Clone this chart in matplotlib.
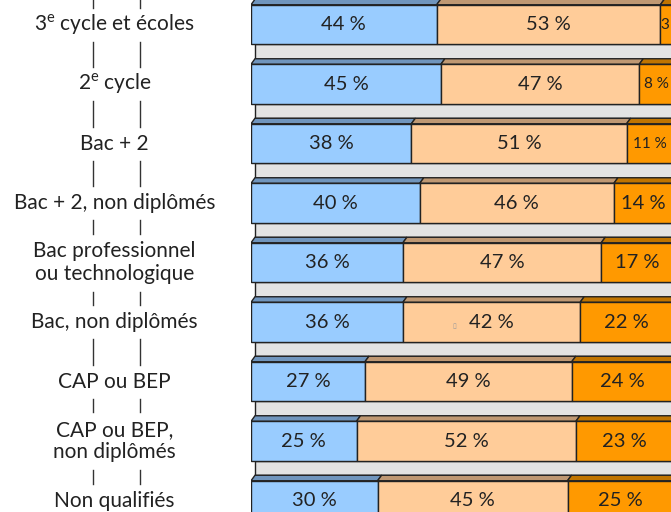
import matplotlib
matplotlib.use('Agg')
import matplotlib.pyplot as plt
from matplotlib.patches import Polygon
from matplotlib.transforms import blended_transform_factory

# ---------------- data ----------------
categories = [
    "3$^\\mathregular{e}$ cycle et écoles",
    "2$^\\mathregular{e}$ cycle",
    "Bac + 2",
    "Bac + 2, non diplômés",
    "Bac professionnel\nou technologique",
    "Bac, non diplômés",
    "CAP ou BEP",
    "CAP ou BEP,\nnon diplômés",
    "Non qualifiés",
]
blue = [44, 45, 38, 40, 36, 36, 27, 25, 30]
peach = [53, 47, 51, 46, 47, 42, 49, 52, 45]
orange = [3, 8, 11, 14, 17, 22, 24, 23, 25]

series = [blue, peach, orange]
face_colors = ["#99CCFF", "#FFCC99", "#FF9900"]
top_colors = ["#7095BD", "#BF9873", "#C07400"]

# ---------------- layout ----------------
W, H = 671, 512
PX_PER_PCT = 4.22
ROW_PX = 59.5
LEFT_PX = 251
FIRST_ROW_PX = 24.5
FACE = 39.5 / ROW_PX
STRIPE = 5.5 / ROW_PX
DX = 4.0 / PX_PER_PCT
EDGE = "#222222"
TXT = "#222222"

plt.rcParams['font.family'] = ['Lato', 'DejaVu Sans']
plt.rcParams['mathtext.fontset'] = 'custom'
plt.rcParams['mathtext.rm'] = 'Lato'

fig = plt.figure(figsize=(W / 100, H / 100), dpi=100)
fig.patch.set_facecolor("white")
ax = fig.add_axes([LEFT_PX / W, 0, 100 * PX_PER_PCT / W, 1])
ax.set_xlim(0, 100)
top = -FIRST_ROW_PX / ROW_PX
ax.set_ylim(top + H / ROW_PX, top)
ax.axis('off')

ys = list(range(len(categories)))

# gray floor bands behind the bars
gap_h = 1 - FACE - STRIPE
ax.barh([y + FACE / 2 + gap_h / 2 for y in ys], [100] * len(ys), left=DX,
        height=gap_h, color="#E3E3E3", edgecolor=EDGE, linewidth=1.0, zorder=1)

# stacked bars with 3D top stripe
lefts = [0] * len(ys)
for vals, fc, tc in zip(series, face_colors, top_colors):
    ax.barh(ys, vals, left=lefts, height=FACE, color=fc, edgecolor=EDGE,
            linewidth=1.0, zorder=3)
    for y, a, v in zip(ys, lefts, vals):
        b = a + v
        yt = y - FACE / 2
        poly = Polygon([(a, yt), (a + DX, yt - STRIPE), (b + DX, yt - STRIPE), (b, yt)],
                       closed=True, facecolor=tc, edgecolor=EDGE, linewidth=1.0, zorder=2.5)
        ax.add_patch(poly)
        # value label
        if v < 5:
            ax.text(a + 0.25, y, f"{v} %", ha='left', va='center', fontsize=11,
                    color=TXT, zorder=5)
        elif v < 12:
            ax.text(a + v / 2, y, f"{v} %", ha='center', va='center', fontsize=11,
                    color=TXT, zorder=5)
        else:
            ax.text(a + v / 2, y, f"{v} %", ha='center', va='center', fontsize=14.5,
                    color=TXT, zorder=5)
    lefts = [l + v for l, v in zip(lefts, vals)]

# small missing-glyph mark seen before "42 %"
ax.text(blue[5] + 12.2, 5 + 0.06, "\u25af", ha='center', va='center', fontsize=5,
        color="#999999", family='DejaVu Sans', zorder=5)

# category labels
tr = blended_transform_factory(fig.transFigure, ax.transData)
LABEL_X = 114.5 / W
for y, lab in zip(ys, categories):
    fig.text(LABEL_X, y, lab, transform=tr, ha='center', va='center',
             multialignment='center', fontsize=15, color=TXT, linespacing=1.15)

# connector lines between labels
def ext_px(lab):
    n = lab.count("\n") + 1
    return 10 + 12 * (n - 1)

def to_data(px):
    return (px - FIRST_ROW_PX) / ROW_PX

PAD = 7
segments = [(-10, FIRST_ROW_PX - ext_px(categories[0]) - PAD)]
for i in range(len(categories) - 1):
    y0 = FIRST_ROW_PX + ROW_PX * i + ext_px(categories[i]) + PAD
    y1 = FIRST_ROW_PX + ROW_PX * (i + 1) - ext_px(categories[i + 1]) - PAD
    segments.append((y0, y1))
for xp in (93.5 / W, 140 / W):
    for y0, y1 in segments:
        fig.add_artist(plt.Line2D([xp, xp], [to_data(y0), to_data(y1)], transform=tr,
                                  color="#333333", linewidth=1.0))

fig.savefig("out.png", dpi=100)
